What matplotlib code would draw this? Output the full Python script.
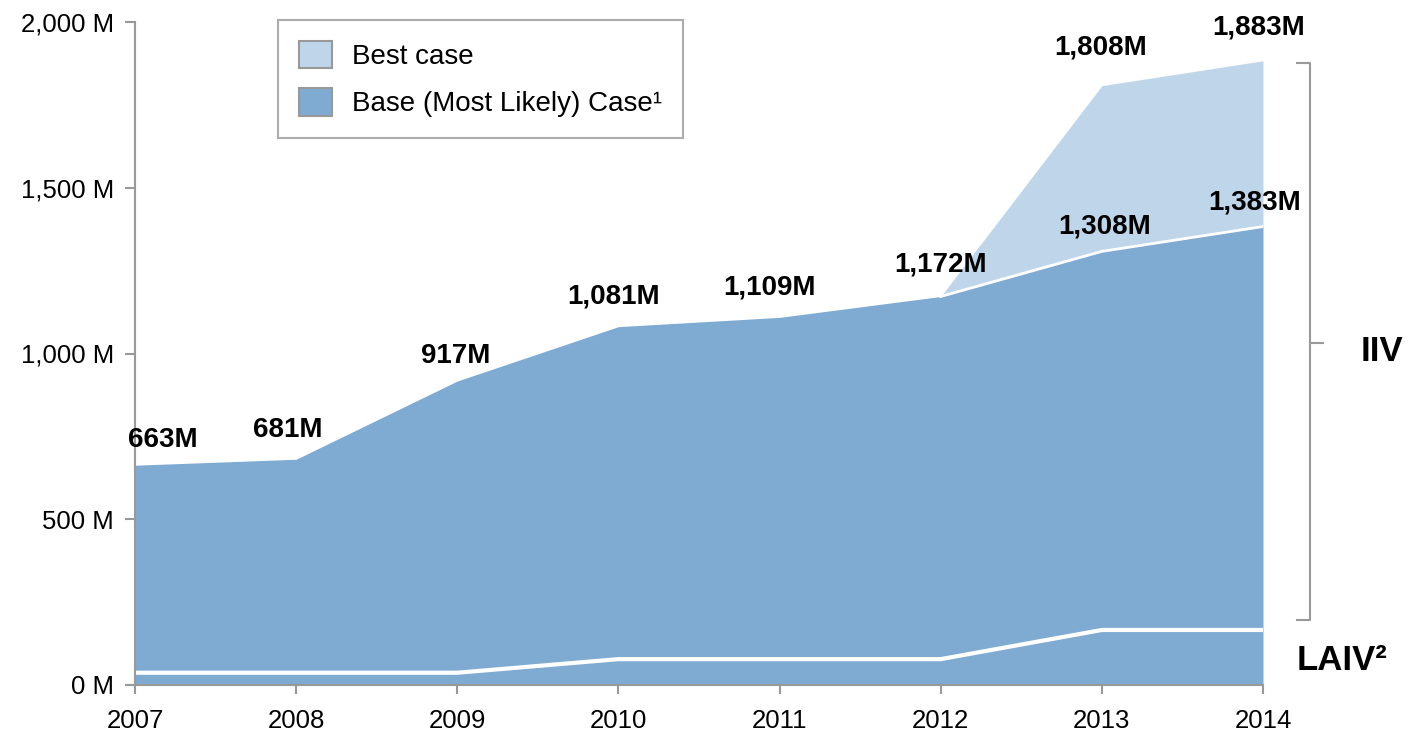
import numpy as np
import matplotlib.pyplot as plt
from matplotlib.patches import Patch

plt.rcParams['font.family'] = ['Liberation Sans', 'DejaVu Sans']

# Datos
years = [2007, 2008, 2009, 2010, 2011, 2012, 2013, 2014]
base = [663, 681, 917, 1081, 1109, 1172, 1308, 1383]
best_years = [2012, 2013, 2014]
best = [1172, 1808, 1883]
laiv = [37, 37, 37, 78, 78, 78, 166, 166]
base_labels = ['663M', '681M', '917M', '1,081M', '1,109M', '1,172M', '1,308M', '1,383M']
best_labels = ['1,808M', '1,883M']

c_base = '#7FAAD2'
c_best = '#BFD6EA'
grey = '#999999'

fig = plt.figure(figsize=(14.16, 7.34), dpi=100)
ax = fig.add_axes([135/1416, 1-685/734, 1128/1416, 663/734])

# Areas
ax.fill_between(best_years, base[5:], best, color=c_best, lw=0)
ax.fill_between(years, 0, base, color=c_base, lw=0)
ax.plot(best_years, base[5:], color='white', lw=2)
ax.plot(years, laiv, color='white', lw=3)

ax.set_xlim(2007, 2014)
ax.set_ylim(0, 2000)
ax.set_xticks(years)
ax.set_yticks([0, 500, 1000, 1500, 2000])
ax.set_yticklabels(['0 M', '500 M', '1,000 M', '1,500 M', '2,000 M'])
ax.tick_params(labelsize=18.5, colors=grey, labelcolor='black', width=1.5)
ax.tick_params(axis='x', length=6.5, pad=11)
ax.tick_params(axis='y', length=7, pad=8)
for s in ['top', 'right']:
    ax.spines[s].set_visible(False)
for s in ['left', 'bottom']:
    ax.spines[s].set_color(grey)
    ax.spines[s].set_linewidth(1.5)
ax.spines['bottom'].set_bounds(2006.95, 2014)

# Etiquetas
dx = [0.17, -0.05, -0.01, -0.03, -0.06, 0.0, 0.02, -0.05]
dy = [75, 87, 75, 90, 90, 97, 75, 71]
for x, y, t, a, b in zip(years, base, base_labels, dx, dy):
    ax.text(x + a, y + b, t, ha='center', va='center', fontsize=20, fontweight='bold')
ax.text(2013 - 0.01, 1808 + 115, best_labels[0], ha='center', va='center', fontsize=20, fontweight='bold')
ax.text(2014 - 0.03, 1883 + 100, best_labels[1], ha='center', va='center', fontsize=20, fontweight='bold')

# Corchete IIV
ax.plot([2014.21, 2014.29, 2014.29, 2014.21], [1875, 1875, 195, 195],
        color=grey, lw=1.5, clip_on=False)
ax.plot([2014.29, 2014.37], [1033, 1033], color=grey, lw=1.5, clip_on=False)
ax.text(2014.74, 1005, 'IIV', ha='center', va='center', fontsize=25, fontweight='bold')
ax.text(2014.21, 75, 'LAIV²', ha='left', va='center', fontsize=25, fontweight='bold')

# Leyenda
handles = [Patch(facecolor=c_best, edgecolor=grey, lw=1.5),
           Patch(facecolor=c_base, edgecolor=grey, lw=1.5)]
leg = ax.legend(handles, ['Best case', 'Base (Most Likely) Case¹'],
                loc='upper left', bbox_to_anchor=(0.127, 1.003), fontsize=20,
                frameon=True, fancybox=False, edgecolor=grey, borderpad=0.75,
                handlelength=1.2, handleheight=1.15, handletextpad=0.7,
                labelspacing=0.65, borderaxespad=0)
leg.get_frame().set_linewidth(1.5)

fig.savefig('out.png', dpi=100)
